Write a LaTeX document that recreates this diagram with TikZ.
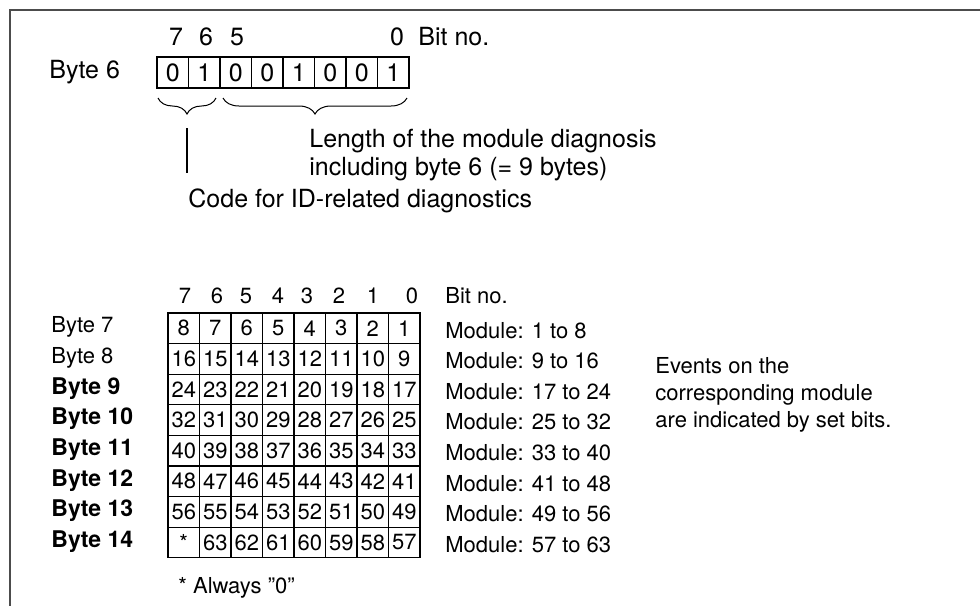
\documentclass[tikz,border=0pt]{standalone}
\usepackage{fontspec}
\setmainfont{TeX Gyre Heros}
\usetikzlibrary{positioning, decorations.pathreplacing}

\tikzset{
  bitcell/.style={draw, line width=0.65pt, minimum width=15.75pt,
    minimum height=15.5pt, inner sep=0pt},
  gridcell/.style={bitcell, minimum height=15.3pt},
  lbl/.style={anchor=west, inner sep=0pt},
  bitno/.style={inner sep=0pt},
  bigtext/.style={font=\fontsize{12.5}{14}\selectfont},
  curly/.style={decorate, line width=0.5pt,
    decoration={brace, mirror, amplitude=8pt}},
  frameline/.style={draw=black!70, line width=0.8pt},
}

\begin{document}
\begin{tikzpicture}[x=0.5pt, y=-0.5pt, font=\fontsize{11}{13.5}\selectfont]
  \useasboundingbox (0,0) rectangle (980,606);
  \draw[frameline] (980,10) -- (10,10) -- (10,606);

  % byte 6
  \node[lbl, bigtext] (byte6) at (49,72) {Byte 6};
  \foreach \v [count=\i] in {0,1,0,0,1,0,0,1}
    \node[bitcell, bigtext] (b6-\i) at ({157+31.5*(\i-0.5)},72.5) {\v};
  \foreach \b/\x in {7/176, 6/206, 5/237, 0/397}
    \node[bitno, bigtext] (tb-\b) at (\x,37) {\b};
  \node[lbl, bigtext] (bitno6) at (418,37) {Bit no.};

  \coordinate (br1a) at (158,98);
  \coordinate (br1b) at (216,98);
  \coordinate (br2a) at (223,98);
  \coordinate (br2b) at (407,98);
  \draw[curly] (br1a) -- (br1b);
  \draw[curly] (br2a) -- (br2b);

  \node[lbl, bigtext, align=left] (length) at (309,155)
    {Length of the module diagnosis\\including byte 6 (= 9 bytes)};
  \node[lbl, bigtext] (code) at (188,201) {Code for ID-related diagnostics};
  \coordinate (codetip) at (187,128);
  \coordinate (codetop) at (187,173);
  \draw[line width=0.6pt] (codetip) -- (codetop);

  % bytes 7 to 14
  \foreach \b/\x in {7/185, 6/217, 5/246, 4/278, 3/307, 2/339, 1/373, 0/412}
    \node[bitno] (lb-\b) at (\x,296) {\b};
  \node[lbl] (bitno) at (445,296) {Bit no.};

  \foreach \r in {1,...,8}{
    \foreach \c in {1,...,8}{
      \pgfmathtruncatemacro\n{8*\r+1-\c}
      \ifnum\n=64 \def\n{*}\fi
      \node[gridcell] (m-\r-\c) at ({168+31.5*(\c-0.5)},{313+30.6*(\r-0.5)}) {\n};
    }
  }

  \foreach \lab/\r in {Byte 7/1, Byte 8/2}
    \node[lbl] (byte-\r) at (51,{313+30.6*(\r-0.5)-1}) {\lab};
  \foreach \lab/\r in {Byte 9/3, Byte 10/4, Byte 11/5, Byte 12/6, Byte 13/7, Byte 14/8}
    \node[lbl, font=\fontsize{11.5}{13.5}\selectfont\bfseries] (byte-\r) at (51,{313+30.6*(\r-0.5)-1}) {\lab};

  \foreach \txt [count=\r] in {1 to 8, 9 to 16, 17 to 24, 25 to 32,
                               33 to 40, 41 to 48, 49 to 56, 57 to 63}
    \node[lbl] (mod-\r) at (445,{313+30.6*(\r-0.5)+2}) {Module: \txt};

  \node[lbl, align=left] (events) at (655,395)
    {Events on the\\corresponding module\\are indicated by set bits.};

  \node[lbl] (always) at (178,588) {* Always ''0''};
\end{tikzpicture}
\end{document}
